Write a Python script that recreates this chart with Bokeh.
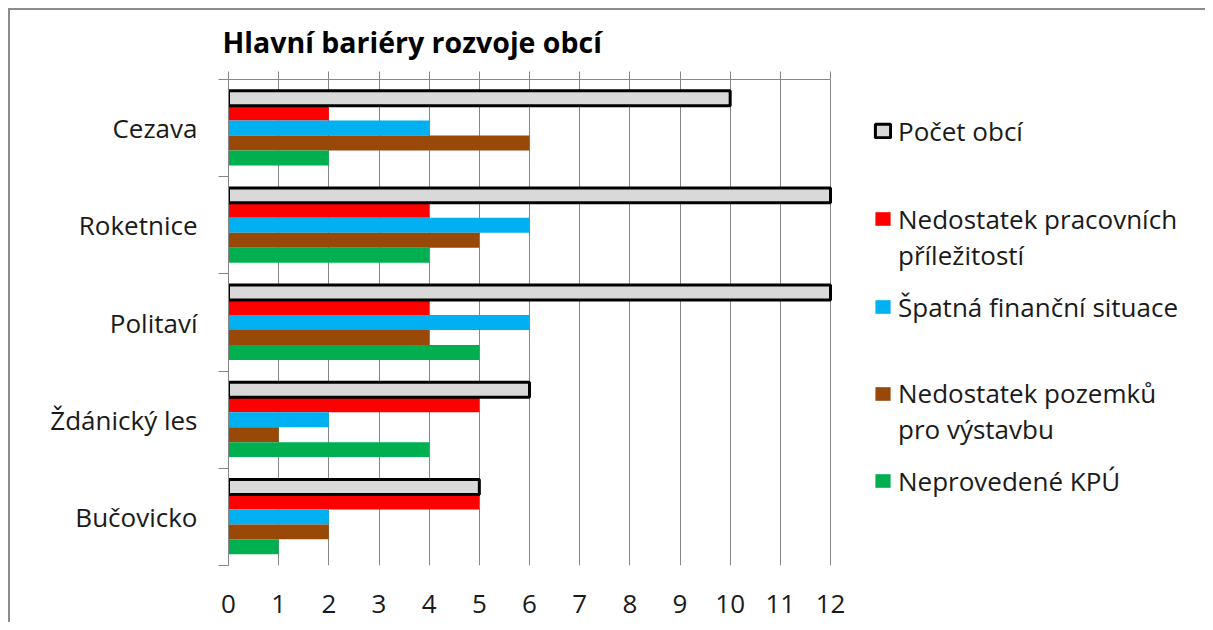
from bokeh.plotting import figure
from bokeh.models import ColumnDataSource, FixedTicker, LinearAxis, Legend, LegendItem, Range1d
from bokeh.transform import dodge
from bokeh.embed import file_html
from bokeh.resources import INLINE

# ---- data ----
categories = ["Cezava", "Roketnice", "Politaví", "Ždánický les", "Bučovicko"]
pocet_obci = [10, 12, 12, 6, 5]
nedostatek_prac = [2, 4, 4, 5, 5]
spatna_fin = [4, 6, 6, 2, 2]
nedostatek_poz = [6, 5, 4, 1, 2]
neprovedene_kpu = [2, 4, 5, 4, 1]
x_ticks = list(range(0, 13))

series_names = [["Počet obcí"], ["Nedostatek pracovních", "příležitostí"], ["Špatná finanční situace"],
                ["Nedostatek pozemků", "pro výstavbu"], ["Neprovedené KPÚ"]]

n = len(categories)
centers = [n - i - 0.5 for i in range(n)]
src = ColumnDataSource(dict(y=centers, cat=categories, pocet=pocet_obci, prac=nedostatek_prac,
                            fin=spatna_fin, poz=nedostatek_poz, kpu=neprovedene_kpu))

FONT = "Open Sans"
GRID = "#868686"
TXT = "#1a1a1a"
XMAX = 12
AXIS_W = 602            # px spanned by 0..XMAX
FW, FH = 977, 486       # frame also holds the legend area on the right
x_end = XMAX * FW / AXIS_W

p = figure(frame_width=FW, frame_height=FH, min_border_left=218, min_border_right=0,
           min_border_top=69, min_border_bottom=57,
           x_range=Range1d(0, x_end), y_range=Range1d(0, n),
           output_backend="svg", toolbar_location=None, x_axis_location=None, y_axis_location=None)
p.styles = {"border-left": "2px solid #8c8c8c", "border-top": "2px solid #8c8c8c",
            "margin-left": "8px", "margin-top": "8px"}
p.outline_line_color = None
p.background_fill_color = "white"
p.border_fill_color = "white"

p.title.text = "Hlavní bariéry rozvoje obcí"
p.title.text_font = FONT
p.title.text_font_size = "28.5px"
p.title.text_font_style = "bold"
p.title.text_color = "#000000"
p.title.align = "left"
p.title.offset = -6
p.title.standoff = 21

bh = 0.154
specs = [("pocet", 2 * bh, "#d9d9d9", "black", 3),
         ("prac", bh, "#ff0000", None, 0),
         ("fin", 0, "#00b0f0", None, 0),
         ("poz", -bh, "#984807", None, 0),
         ("kpu", -2 * bh, "#00b050", None, 0)]
renderers = []
for field, off, fill, line, lw in specs:
    kw = dict(line_color=line, line_width=lw) if line else dict(line_color=None)
    r = p.hbar(y=dodge("y", off), right=field, left=0, height=bh, source=src, fill_color=fill, **kw)
    renderers.append(r)
# invisible renderer used for legend continuation lines (no data, nothing drawn)
blank = p.hbar(y=[], right=[], left=0, height=bh, fill_alpha=0, line_alpha=0)
# draw gray bars above the others
p.renderers = renderers[1:] + renderers[:1] + [blank]

# grid
p.xgrid.ticker = FixedTicker(ticks=x_ticks)
p.xgrid.grid_line_color = GRID
p.xgrid.grid_line_width = 1
p.ygrid.grid_line_color = None

# top axis (tick marks only)
top = LinearAxis(ticker=FixedTicker(ticks=[], minor_ticks=x_ticks), bounds=(0, XMAX))
top.axis_line_color = GRID
top.major_tick_line_color = None
top.major_tick_out = 0
top.minor_tick_line_color = GRID
top.minor_tick_out = 8
top.minor_tick_in = 0
top.major_label_standoff = 0
p.add_layout(top, "above")

# bottom axis (labels only)
bot = LinearAxis(ticker=FixedTicker(ticks=x_ticks), bounds=(0, XMAX))
bot.axis_line_color = None
bot.major_tick_line_color = None
bot.minor_tick_line_color = None
bot.major_tick_out = 0
bot.major_label_standoff = 29
bot.major_label_text_font = FONT
bot.major_label_text_font_size = "26px"
bot.major_label_text_color = TXT
p.add_layout(bot, "below")

# left category axis
left = LinearAxis(ticker=FixedTicker(ticks=centers, minor_ticks=list(range(0, n + 1))))
left.axis_line_color = GRID
left.major_tick_line_color = None
left.major_tick_out = 0
left.major_tick_in = 0
left.minor_tick_line_color = GRID
left.minor_tick_out = 10
left.minor_tick_in = 0
left.major_label_overrides = {float(c): lab for c, lab in zip(centers, categories)}
left.major_label_standoff = 21
left.major_label_text_font = FONT
left.major_label_text_font_size = "26px"
left.major_label_text_color = TXT
p.add_layout(left, "left")

# legend: one block per series, first line carries the swatch
LH = 35.4               # label line height (px)
first_line_y = [131, 219.5, 307, 394, 481]   # page y of first-line centres
FRAME_TOP_PAGE, FRAME_LEFT_PAGE = 79, 228
for names, r, cy in zip(series_names, renderers, first_line_y):
    items = [LegendItem(label=names[0], renderers=[r])]
    items += [LegendItem(label=nm, renderers=[blank]) for nm in names[1:]]
    top_rel = cy - LH / 2 - FRAME_TOP_PAGE
    bottom_rel = top_rel + LH * len(names)
    leg = Legend(items=items, location=(873 - FRAME_LEFT_PAGE, FH - bottom_rel))
    leg.padding = 0
    leg.margin = 0
    leg.spacing = 0
    leg.border_line_color = None
    leg.background_fill_alpha = 0
    leg.glyph_width = 19
    leg.glyph_height = 17
    leg.label_standoff = 6
    leg.label_height = 20
    leg.label_text_font = FONT
    leg.label_text_font_size = "26px"
    leg.label_text_color = TXT
    p.add_layout(leg, "center")

open("out.html", "w").write(file_html(p, INLINE))
